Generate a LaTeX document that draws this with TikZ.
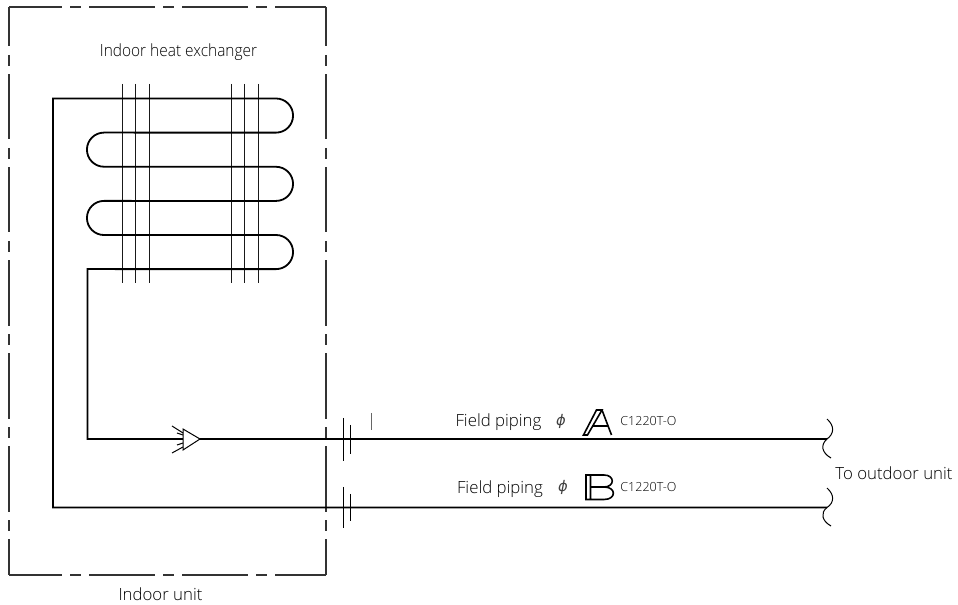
\documentclass[tikz,border=0pt]{standalone}
\usepackage{fontspec}
\setmainfont{Open Sans}[UprightFont=* Light]
\newfontfamily\phifont{DejaVu Sans}[ItalicFont=* Oblique]
\tikzset{
  x=0.75pt,y=-0.75pt,
  frameline/.style={line width=0.8pt,draw=black!80},
  framex/.style={frameline,dash pattern=on 49.5pt off 6pt on 8.25pt off 6pt,dash phase=9.75pt},
  framey/.style={frameline,dash pattern=on 49pt off 6.4pt on 8pt off 6.4pt,dash phase=19.5pt},
  pipe/.style={line width=1.35pt,draw=black},
  fin/.style={line width=0.75pt,draw=black!90},
  thin part/.style={line width=0.75pt,draw=black},
  label/.style={inner sep=0pt,text=black,font=\fontsize{12.6}{15}\selectfont},
  small/.style={inner sep=0pt,text=black,font=\fontsize{9.4}{11}\selectfont},
  phisym/.style={inner sep=0pt,text=black!75,font=\fontsize{11}{13}\selectfont\phifont\itshape},
  letter/.style={line width=1.2pt,draw=black,line join=miter},
}
\begin{document}
\begin{tikzpicture}
\useasboundingbox (0,0) rectangle (958,605);
\coordinate (tl) at (9,7); \coordinate (tr) at (326,7);
\coordinate (bl) at (9,575); \coordinate (br) at (326,575);
\draw[framex] (tl)--(tr);
\draw[framex] (bl)--(br);
\draw[framey] (tl)--(bl);
\draw[framey] (tr)--(br);
\node[label,anchor=center] (hx) at (178.5,52) {\addfontfeature{FakeStretch=0.92}Indoor heat exchanger};
\node[label,anchor=center] (iu) at (160.5,594.5) {Indoor unit};
\foreach \x in {122,135,149,231,244,258}{\draw[fin] (\x,84)--(\x,283);}
\coordinate (w1) at (827,439);
\coordinate (w2) at (827,507.5);
\draw[pipe,line join=miter] (w2)--(53,507.5)--(53,98.5)--(276,98.5)
  arc[start angle=90,end angle=-90,radius=12.8pt]--(104,132.6)
  arc[start angle=90,end angle=270,radius=12.8pt]--(276,166.8)
  arc[start angle=90,end angle=-90,radius=12.8pt]--(104,200.9)
  arc[start angle=90,end angle=270,radius=12.8pt]--(276,235)
  arc[start angle=90,end angle=-90,radius=12.8pt]--(87.5,269.1)--(87.5,439)--(w1);
\draw[thin part,fill=white] (200,439)--(183,429)--(183,450)--cycle;
\draw[thin part] (172,426)--(183,433) (177,433)--(183,435) (177,445)--(183,443) (172,453)--(183,447);
\draw[thin part] (343.5,418)--(343.5,461) (350.5,425)--(350.5,454) (343.5,487)--(343.5,528) (350.5,494)--(350.5,521);
\draw[line width=0.5pt,draw=black!60] (371.5,413)--(371.5,430);
\draw[thin part] (827,419) .. controls (835,426) and (834,434) .. (w1) .. controls (820,445) and (822,453) .. (831,458);
\draw[thin part] (827,488) .. controls (835,495) and (834,503) .. (w2) .. controls (820,513) and (822,521) .. (831,526);
\node[label] (fa) at (498.5,422) {Field piping};
\node[label] (fb) at (500,489) {Field piping};
\node[phisym] (pa) at (561,421) {ϕ};
\node[phisym] (pb) at (563,487) {ϕ};
% outlined letter A
\draw[letter] (583.5,435)--(596.5,410)--(602,410)--(587.5,435)--cycle
  (602,410)--(611.5,435) (592,426)--(608,426);
% outlined letter B
\draw[letter] (586,475)--(604,475) .. controls (615,475) and (615,487) .. (604,487)
  .. controls (616.5,487) and (616.5,499.5) .. (604,499.5)--(586,499.5)--cycle
  (590.5,475)--(590.5,499.5) (590.5,487)--(604,487);
\node[small] (ca) at (648.5,421.5) {C1220T-O};
\node[small] (cb) at (648.5,487) {C1220T-O};
\node[label] (to) at (894,473) {To outdoor unit};
\end{tikzpicture}
\end{document}
